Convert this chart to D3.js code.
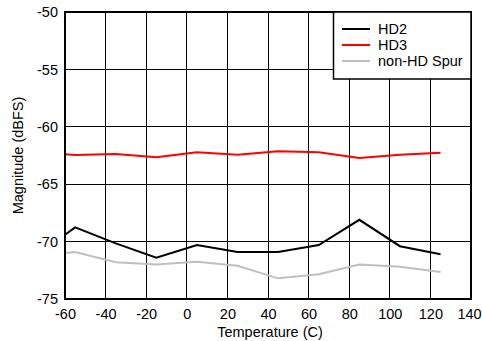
<!DOCTYPE html>
<html><head><meta charset="utf-8">
<script src="https://cdn.jsdelivr.net/npm/d3@7"></script>
<style>body{margin:0;background:#fff}svg{display:block}text{font-family:"Liberation Sans",Arial,sans-serif}</style>
</head><body>
<script>
const temps = [-60, -55, -35, -15, 5, 25, 45, 65, 85, 105, 125];
const hd2 = [-69.4, -68.76, -70.15, -71.4, -70.3, -70.9, -70.9, -70.3, -68.1, -70.4, -71.1];
const hd3 = [-62.4, -62.46, -62.37, -62.66, -62.22, -62.43, -62.14, -62.22, -62.72, -62.43, -62.25];
const spur = [-71.0, -70.9, -71.8, -72.0, -71.75, -72.1, -73.2, -72.85, -72.0, -72.2, -72.65];
const xTicks = [-60, -40, -20, 0, 20, 40, 60, 80, 100, 120, 140];
const yTicks = [-75, -70, -65, -60, -55, -50];
const seriesNames = ["HD2", "HD3", "non-HD Spur"];
const seriesColors = ["#000000", "#ff0000", "#bfbfbf"];

const W = 482, H = 341;
const FS = 14.5;
const m = {l: 65, r: 11, t: 12, b: 42};
const svg = d3.select("body").append("svg").attr("width", W).attr("height", H);
const x = d3.scaleLinear().domain([-60, 140]).range([m.l, W - m.r]);
const y = d3.scaleLinear().domain([-75, -50]).range([H - m.b, m.t]);
const fmt = d => String(d);

// grid
svg.append("g").selectAll("line").data(xTicks.slice(1, -1)).join("line")
  .attr("x1", d => x(d)).attr("x2", d => x(d)).attr("y1", m.t).attr("y2", H - m.b)
  .attr("stroke", "#000").attr("stroke-width", 1).attr("shape-rendering", "crispEdges");
svg.append("g").selectAll("line").data(yTicks.slice(1, -1)).join("line")
  .attr("y1", d => y(d)).attr("y2", d => y(d)).attr("x1", m.l).attr("x2", W - m.r)
  .attr("stroke", "#000").attr("stroke-width", 1).attr("shape-rendering", "crispEdges");

// axes labels
const xAxis = svg.append("g").attr("transform", `translate(0,${H - m.b})`)
  .call(d3.axisBottom(x).tickValues(xTicks).tickSize(0).tickPadding(10).tickFormat(fmt));
xAxis.select(".domain").remove();
xAxis.selectAll("text").attr("font-size", FS).attr("fill", "#000")
  .attr("dx", d => d === 140 ? -2 : 0);
const yAxis = svg.append("g").attr("transform", `translate(${m.l},0)`)
  .call(d3.axisLeft(y).tickValues(yTicks).tickSize(0).tickPadding(7).tickFormat(fmt));
yAxis.select(".domain").remove();
yAxis.selectAll("text").attr("font-size", FS).attr("fill", "#000");

// lines
const line = d3.line().x((d, i) => x(temps[i])).y(d => y(d));
[hd2, hd3, spur].forEach((s, i) => {
  svg.append("path").datum(s).attr("d", line).attr("fill", "none")
    .attr("stroke", seriesColors[i]).attr("stroke-width", 2);
});

// frame
svg.append("rect").attr("x", m.l).attr("y", m.t).attr("width", W - m.r - m.l).attr("height", H - m.b - m.t)
  .attr("fill", "none").attr("stroke", "#000").attr("stroke-width", 2);

// legend
const lg = svg.append("g");
lg.append("rect").attr("x", 333.5).attr("y", m.t).attr("width", W - m.r - 333.5).attr("height", 67)
  .attr("fill", "#fff").attr("stroke", "#000").attr("stroke-width", 1.5);
seriesNames.forEach((n, i) => {
  const yy = 29 + i * 16;
  lg.append("line").attr("x1", 342).attr("x2", 370).attr("y1", yy).attr("y2", yy)
    .attr("stroke", seriesColors[i]).attr("stroke-width", 2);
  lg.append("text").attr("x", 378).attr("y", yy + 5).attr("font-size", FS).text(n);
});

// titles
svg.append("text").attr("x", 270).attr("y", 337).attr("text-anchor", "middle")
  .attr("font-size", FS).text("Temperature (C)");
svg.append("text").attr("transform", `translate(23,${(m.t + H - m.b) / 2}) rotate(-90)`)
  .attr("text-anchor", "middle").attr("font-size", FS).text("Magnitude (dBFS)");
</script>
</body></html>
